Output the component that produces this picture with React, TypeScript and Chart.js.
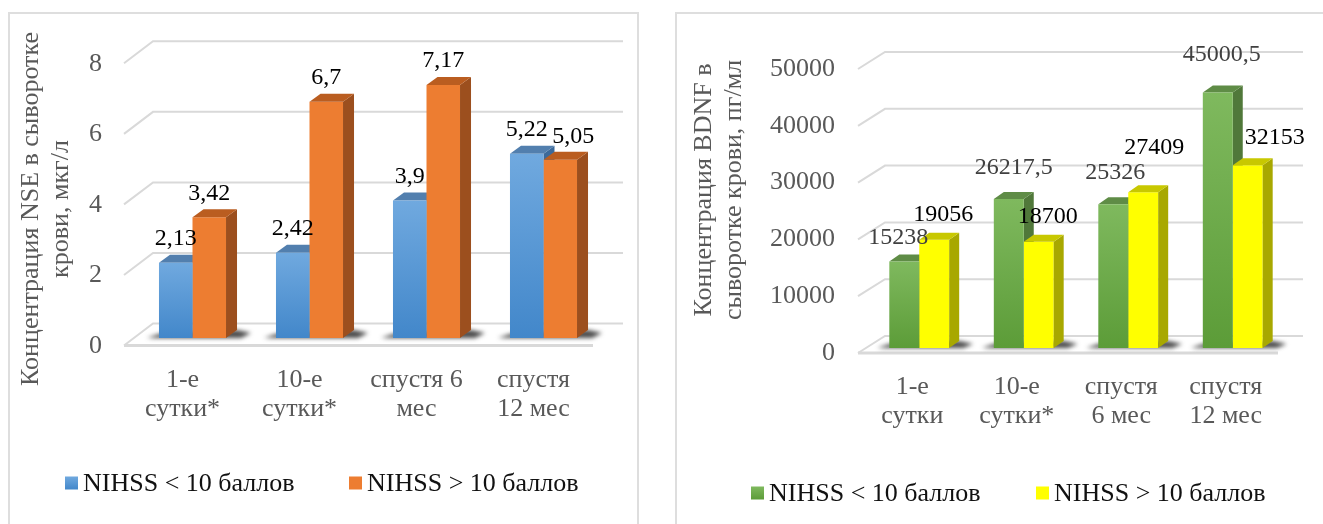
import React, { useEffect, useRef } from 'react';
import { Chart, registerables } from 'chart.js';

Chart.register(...registerables);

const FONT = "'Liberation Serif', 'Times New Roman', serif";

// NSE panel
const nseCategories = [['1-е', 'сутки*'], ['10-е', 'сутки*'], ['спустя 6', 'мес'], ['спустя', '12 мес']];
const nseLow = [2.13, 2.42, 3.9, 5.22];
const nseHigh = [3.42, 6.7, 7.17, 5.05];
const nseMax = 8;
const nseStep = 2;
const nseTitle = ['Концентрация NSE в сыворотке', 'крови, мкг/л'];

// BDNF panel
const bdnfCategories = [['1-е', 'сутки'], ['10-е', 'сутки*'], ['спустя', '6 мес'], ['спустя', '12 мес']];
const bdnfLow = [15238, 26217.5, 25326, 45000.5];
const bdnfHigh = [19056, 18700, 27409, 32153];
const bdnfMax = 50000;
const bdnfStep = 10000;
const bdnfTitle = ['Концентрация BDNF в', 'сыворотке крови, пг/мл'];

const seriesLabels = ['NIHSS < 10 баллов', 'NIHSS > 10 баллов'];

type Face = { front: [string, string]; top: string; side: string; label: string };
type PanelStyle = {
  x: number;
  width: number;
  height: number;
  area: { left: number; top: number; right: number; bottom: number };
  depth: { dx: number; dy: number };
  wall: { frontX: number; frontY: number; backX: number; backY: number; backRight: number; floorRight: number };
  tickOffset: number;
  tickPad: number;
  catOffset: number;
  catPad: number;
  faces: Face[];
  nudges: [number, number][][];
  title: { x: [number, number]; y: number };
  legend: { x: [number, number]; y: number };
};

const nseStyle: PanelStyle = {
  x: 0,
  width: 660,
  height: 524,
  area: { left: 134, top: 55.8, right: 602, bottom: 338 },
  depth: { dx: 11, dy: 8 },
  wall: { frontX: -10, frontY: 7.5, backX: 19, backY: -14.5, backRight: 21, floorRight: -9 },
  tickOffset: 8,
  tickPad: 32,
  catOffset: -10,
  catPad: 28,
  faces: [
    { front: ['#70A9DF', '#4287CA'], top: '#527FAE', side: '#3C6A9A', label: '#000000' },
    { front: ['#ED7D31', '#ED7D31'], top: '#BA5D20', side: '#9C4F1E', label: '#000000' },
  ],
  nudges: [
    [[0, 0], [0, 0], [0, 0], [0, 0]],
    [[0, 0], [0, 0], [0, 0], [13, 1]],
  ],
  title: { x: [31, 61], y: 209 },
  legend: { x: [65, 349], y: 483 },
};

const bdnfStyle: PanelStyle = {
  x: 660,
  width: 663,
  height: 524,
  area: { left: 207, top: 64, right: 625, bottom: 348 },
  depth: { dx: 10, dy: 7 },
  wall: { frontX: -9, frontY: 5, backX: 18, backY: -12, backRight: 18, floorRight: -7 },
  tickOffset: 5,
  tickPad: 32,
  catOffset: -7,
  catPad: 25,
  faces: [
    { front: ['#7FB95E', '#5C9C38'], top: '#5F8C46', side: '#50783A', label: '#404040' },
    { front: ['#FFFF00', '#FFFF00'], top: '#C8C800', side: '#A8A800', label: '#000000' },
  ],
  nudges: [
    [[-6, 0], [5, -7], [2, -7], [4, -14]],
    [[9, -1], [9, -1], [11, -21], [27, -4]],
  ],
  title: { x: [44, 74], y: 190 },
  legend: { x: [91, 376], y: 493 },
};

type PanelProps = {
  categories: string[][];
  low: number[];
  high: number[];
  max: number;
  step: number;
  title: string[];
  s: PanelStyle;
};

function Panel({ categories, low, high, max, step, title, s }: PanelProps) {
  const ref = useRef<HTMLCanvasElement>(null);

  useEffect(() => {
    const canvas = ref.current;
    if (!canvas) return;

    const fmt = (v: number) => String(v).replace('.', ',');

    const gradient = (c: [string, string]) => (ctx: any) => {
      const chart = ctx.chart;
      const y = chart.scales && chart.scales.y;
      if (!chart.chartArea || !y || ctx.type !== 'data') return c[1];
      const top = y.getPixelForValue(ctx.raw as number);
      const bottom = y.getPixelForValue(0);
      const g = chart.ctx.createLinearGradient(0, top, 0, bottom);
      g.addColorStop(0, c[0]);
      g.addColorStop(1, c[1]);
      return g;
    };

    const drawDepth = (chart: any, i: number) => {
      const ctx = chart.ctx as CanvasRenderingContext2D;
      const f = s.faces[i];
      const { dx, dy } = s.depth;
      chart.getDatasetMeta(i).data.forEach((el: any) => {
        const { x, y, base, width } = el.getProps(['x', 'y', 'base', 'width'], true);
        const l = x - width / 2;
        const r = x + width / 2;
        ctx.fillStyle = f.side;
        ctx.beginPath();
        ctx.moveTo(r, y);
        ctx.lineTo(r + dx, y - dy);
        ctx.lineTo(r + dx, base - dy);
        ctx.lineTo(r, base);
        ctx.closePath();
        ctx.fill();
        ctx.fillStyle = f.top;
        ctx.beginPath();
        ctx.moveTo(l, y);
        ctx.lineTo(l + dx, y - dy);
        ctx.lineTo(r + dx, y - dy);
        ctx.lineTo(r, y);
        ctx.closePath();
        ctx.fill();
      });
    };

    const depthPlugin = {
      id: 'depthFaces',
      beforeDatasetsDraw(chart: any) {
        const ctx = chart.ctx as CanvasRenderingContext2D;
        const a = chart.chartArea;
        const y = chart.scales.y;
        const w = s.wall;
        ctx.save();
        // back wall grid with the left side wall diagonals
        ctx.strokeStyle = '#D9D9D9';
        ctx.lineWidth = 2;
        y.ticks.forEach((t: any) => {
          const py = y.getPixelForValue(t.value);
          ctx.beginPath();
          ctx.moveTo(a.left + w.frontX, py + w.frontY);
          ctx.lineTo(a.left + w.backX, py + w.backY);
          ctx.lineTo(a.right + w.backRight, py + w.backY);
          ctx.stroke();
        });
        // floor front edge
        const p0 = y.getPixelForValue(0);
        ctx.lineWidth = 3;
        ctx.beginPath();
        ctx.moveTo(a.left + w.frontX, p0 + w.frontY);
        ctx.lineTo(a.right + w.floorRight, p0 + w.frontY);
        ctx.stroke();

        // floor shadows under each pair of columns
        const m0 = chart.getDatasetMeta(0).data;
        const m1 = chart.getDatasetMeta(1).data;
        const { dx, dy } = s.depth;
        ctx.filter = 'blur(2px)';
        ctx.fillStyle = 'rgba(45,45,45,0.85)';
        m0.forEach((b: any, j: number) => {
          const pb = b.getProps(['x', 'base', 'width'], true);
          const po = m1[j].getProps(['x', 'width'], true);
          const L = pb.x - pb.width / 2;
          const R = po.x + po.width / 2;
          const base = pb.base;
          ctx.beginPath();
          ctx.moveTo(L - 12, base);
          ctx.lineTo(L, base - 4);
          ctx.lineTo(R + dx, base - dy);
          ctx.lineTo(R + dx + 14, base - dy + 3);
          ctx.lineTo(R + dx + 4, base);
          ctx.closePath();
          ctx.fill();
        });
        ctx.filter = 'none';

        drawDepth(chart, 0);
        ctx.restore();
      },
      afterDatasetsDraw(chart: any) {
        const ctx = chart.ctx as CanvasRenderingContext2D;
        ctx.save();
        drawDepth(chart, 1);

        // value labels
        ctx.font = `24px ${FONT}`;
        ctx.textAlign = 'center';
        ctx.textBaseline = 'middle';
        [0, 1].forEach((i) => {
          ctx.fillStyle = s.faces[i].label;
          chart.getDatasetMeta(i).data.forEach((el: any, j: number) => {
            const { x, y } = el.getProps(['x', 'y'], true);
            const [nx, ny] = s.nudges[i][j];
            const v = chart.data.datasets[i].data[j] as number;
            ctx.fillText(fmt(v), x + nx, y - 24 + ny);
          });
        });

        // rotated axis title
        ctx.font = `26px ${FONT}`;
        ctx.fillStyle = '#595959';
        title.forEach((line, k) => {
          ctx.save();
          ctx.translate(s.title.x[k], s.title.y);
          ctx.rotate(-Math.PI / 2);
          ctx.fillText(line, 0, 0);
          ctx.restore();
        });

        // legend
        ctx.textAlign = 'left';
        chart.data.datasets.forEach((ds: any, k: number) => {
          const bx = s.legend.x[k];
          const by = s.legend.y;
          const size = 13;
          const g = ctx.createLinearGradient(0, by - size / 2, 0, by + size / 2);
          g.addColorStop(0, s.faces[k].front[0]);
          g.addColorStop(1, s.faces[k].front[1]);
          ctx.fillStyle = g;
          ctx.fillRect(bx, by - size / 2, size, size);
          ctx.fillStyle = '#111111';
          ctx.fillText(ds.label, bx + 18, by + 1);
        });
        ctx.restore();
      },
    };

    const chart = new Chart(canvas, {
      type: 'bar',
      data: {
        labels: categories,
        datasets: [
          {
            label: seriesLabels[0],
            data: low,
            backgroundColor: gradient(s.faces[0].front),
            borderWidth: 0,
            categoryPercentage: 0.573,
            barPercentage: 1,
          },
          {
            label: seriesLabels[1],
            data: high,
            backgroundColor: gradient(s.faces[1].front),
            borderWidth: 0,
            categoryPercentage: 0.573,
            barPercentage: 1,
          },
        ],
      },
      options: {
        responsive: false,
        animation: false,
        devicePixelRatio: 1,
        layout: { padding: { left: 0, top: s.area.top, right: s.width - s.area.right, bottom: 0 } },
        plugins: {
          legend: { display: false },
          tooltip: { enabled: false },
          title: { display: false },
        },
        scales: {
          x: {
            grid: { display: false, drawTicks: false },
            border: { display: false },
            ticks: {
              font: { family: FONT, size: 26, lineHeight: 1.1 },
              color: '#595959',
              padding: s.catPad,
              labelOffset: s.catOffset,
              maxRotation: 0,
              autoSkip: false,
            },
            afterFit: (sc: any) => {
              sc.height = s.height - s.area.bottom;
            },
          },
          y: {
            min: 0,
            max,
            grid: { display: false, drawTicks: false },
            border: { display: false },
            ticks: {
              stepSize: step,
              font: { family: FONT, size: 26 },
              color: '#595959',
              padding: s.tickPad,
              labelOffset: s.tickOffset,
              callback: (v: any) => String(v),
            },
            afterFit: (sc: any) => {
              sc.width = s.area.left;
            },
          },
        },
      } as any,
      plugins: [depthPlugin],
    });

    return () => chart.destroy();
  }, []);

  return (
    <canvas
      ref={ref}
      width={s.width}
      height={s.height}
      style={{ position: 'absolute', left: s.x, top: 0, width: s.width, height: s.height }}
    />
  );
}

export default function App() {
  const frame = {
    position: 'absolute' as const,
    top: 12,
    height: 540,
    border: '2px solid #DEDEDE',
    boxSizing: 'border-box' as const,
    background: '#FFFFFF',
  };
  return (
    <div
      style={{
        position: 'absolute',
        left: 0,
        top: 0,
        width: 1323,
        height: 524,
        overflow: 'hidden',
        background: '#FFFFFF',
      }}
    >
      <div style={{ ...frame, left: 8, width: 631 }} />
      <div style={{ ...frame, left: 675, width: 700 }} />
      <Panel
        categories={nseCategories}
        low={nseLow}
        high={nseHigh}
        max={nseMax}
        step={nseStep}
        title={nseTitle}
        s={nseStyle}
      />
      <Panel
        categories={bdnfCategories}
        low={bdnfLow}
        high={bdnfHigh}
        max={bdnfMax}
        step={bdnfStep}
        title={bdnfTitle}
        s={bdnfStyle}
      />
    </div>
  );
}
